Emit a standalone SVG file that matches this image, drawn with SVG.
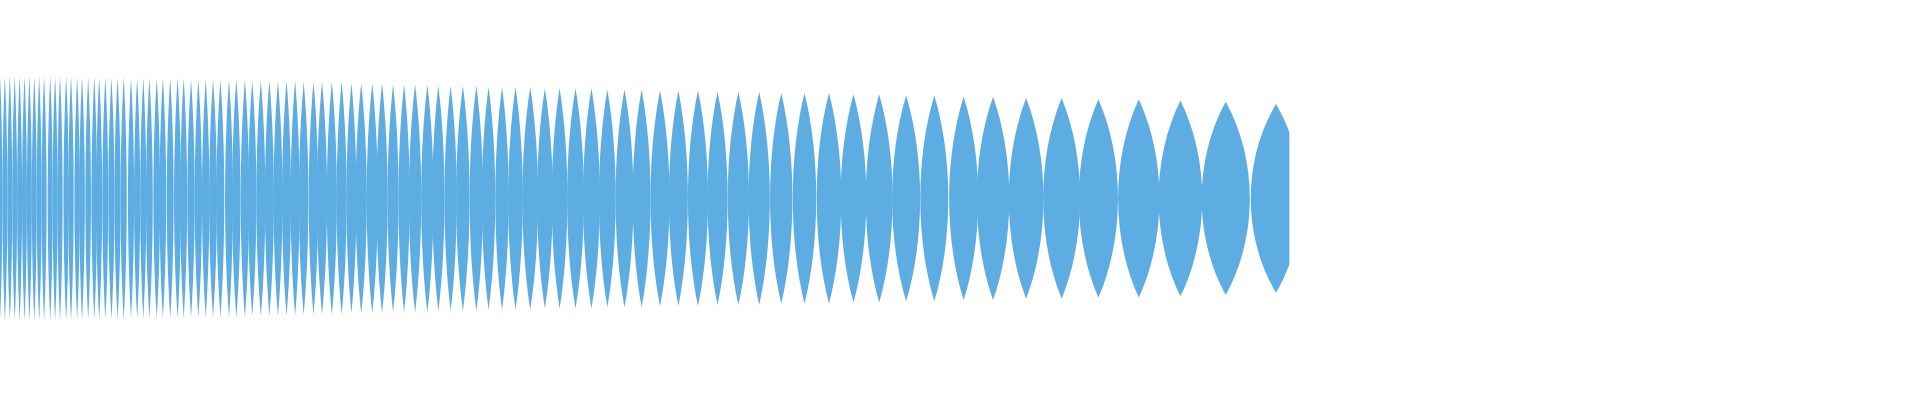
<svg xmlns="http://www.w3.org/2000/svg" width="1920" height="400" viewBox="0 0 1920 400">
<defs>
<path id="l" d="M0,-1 C0.61,-0.4 0.61,0.4 0,1 C-0.61,0.4 -0.61,-0.4 0,-1Z"/>
<clipPath id="c"><rect x="0" y="0" width="1053" height="330"/></clipPath>
<style>use{fill:#5DADE2}</style>
</defs>
<rect width="1920" height="400" fill="#fff"/>
<g transform="scale(1.2245)" clip-path="url(#c)">
<use href="#l" transform="translate(1042 162) scale(45 77)"/>
<use href="#l" transform="translate(1001 162) scale(43 79)"/>
<use href="#l" transform="translate(964 162) scale(39 80)"/>
<use href="#l" transform="translate(930 162) scale(37 81)"/>
<use href="#l" transform="translate(897 162) scale(35 81)"/>
<use href="#l" transform="translate(867 162) scale(33 82)"/>
<use href="#l" transform="translate(838 162) scale(31 82)"/>
<use href="#l" transform="translate(811 162) scale(29 83)"/>
<use href="#l" transform="translate(787 162) scale(26 83)"/>
<use href="#l" transform="translate(763 162) scale(25 84)"/>
<use href="#l" transform="translate(740 162) scale(25 84)"/>
<use href="#l" transform="translate(718 162) scale(24 85)"/>
<use href="#l" transform="translate(697 162) scale(23 85)"/>
<use href="#l" transform="translate(677 162) scale(22 86)"/>
<use href="#l" transform="translate(657 162) scale(21 86)"/>
<use href="#l" transform="translate(638 162) scale(20 86)"/>
<use href="#l" transform="translate(620 162) scale(19 87)"/>
<use href="#l" transform="translate(603 162) scale(19 87)"/>
<use href="#l" transform="translate(586 162) scale(18 87)"/>
<use href="#l" transform="translate(570 162) scale(18 88)"/>
<use href="#l" transform="translate(554 162) scale(17 88)"/>
<use href="#l" transform="translate(539 162) scale(17 88)"/>
<use href="#l" transform="translate(524 162) scale(16 89)"/>
<use href="#l" transform="translate(510 162) scale(16 89)"/>
<use href="#l" transform="translate(496 162) scale(15 89)"/>
<use href="#l" transform="translate(483 162) scale(15 90)"/>
<use href="#l" transform="translate(470 162) scale(15 90)"/>
<use href="#l" transform="translate(457 162) scale(14 90)"/>
<use href="#l" transform="translate(445 162) scale(14 90)"/>
<use href="#l" transform="translate(433 162) scale(14 91)"/>
<use href="#l" transform="translate(421 162) scale(13 91)"/>
<use href="#l" transform="translate(410 162) scale(12 91)"/>
<use href="#l" transform="translate(399 162) scale(12 91)"/>
<use href="#l" transform="translate(389 162) scale(12 92)"/>
<use href="#l" transform="translate(378 162) scale(12 92)"/>
<use href="#l" transform="translate(368 162) scale(11 92)"/>
<use href="#l" transform="translate(358 162) scale(11 92)"/>
<use href="#l" transform="translate(349 162) scale(11 93)"/>
<use href="#l" transform="translate(339 162) scale(11 93)"/>
<use href="#l" transform="translate(330 162) scale(10 93)"/>
<use href="#l" transform="translate(321 162) scale(10 93)"/>
<use href="#l" transform="translate(312 162) scale(10 94)"/>
<use href="#l" transform="translate(304 162) scale(10 94)"/>
<use href="#l" transform="translate(295 162) scale(10 94)"/>
<use href="#l" transform="translate(287 162) scale(9 94)"/>
<use href="#l" transform="translate(279 162) scale(9 95)"/>
<use href="#l" transform="translate(271 162) scale(9 95)"/>
<use href="#l" transform="translate(263 162) scale(9 95)"/>
<use href="#l" transform="translate(256 162) scale(8.5 95)"/>
<use href="#l" transform="translate(248 162) scale(8.5 95)"/>
<use href="#l" transform="translate(241 162) scale(8 96)"/>
<use href="#l" transform="translate(234 162) scale(8 96)"/>
<use href="#l" transform="translate(227 162) scale(8 96)"/>
<use href="#l" transform="translate(220 162) scale(8 96)"/>
<use href="#l" transform="translate(213 162) scale(8 96)"/>
<use href="#l" transform="translate(206 162) scale(7.5 96)"/>
<use href="#l" transform="translate(200 162) scale(7.5 97)"/>
<use href="#l" transform="translate(193 162) scale(7.5 97)"/>
<use href="#l" transform="translate(187 162) scale(7 97)"/>
<use href="#l" transform="translate(180 162) scale(7 97)"/>
<use href="#l" transform="translate(174 162) scale(7 97)"/>
<use href="#l" transform="translate(168 162) scale(6.6 97)"/>
<use href="#l" transform="translate(162 162) scale(6.6 97)"/>
<use href="#l" transform="translate(156 162) scale(6.6 97)"/>
<use href="#l" transform="translate(150 162) scale(6.2 98)"/>
<use href="#l" transform="translate(145 162) scale(6.2 98)"/>
<use href="#l" transform="translate(139 162) scale(6.2 98)"/>
<use href="#l" transform="translate(133 162) scale(6 98)"/>
<use href="#l" transform="translate(128 162) scale(6 98)"/>
<use href="#l" transform="translate(122 162) scale(6 98)"/>
<use href="#l" transform="translate(117 162) scale(5.5 98)"/>
<use href="#l" transform="translate(112 162) scale(5.5 98)"/>
<use href="#l" transform="translate(107 162) scale(5.5 98)"/>
<use href="#l" transform="translate(101 162) scale(5.5 99)"/>
<use href="#l" transform="translate(96 162) scale(5.5 99)"/>
<use href="#l" transform="translate(91 162) scale(5.5 99)"/>
<use href="#l" transform="translate(86 162) scale(5.3 99)"/>
<use href="#l" transform="translate(81 162) scale(5.3 99)"/>
<use href="#l" transform="translate(77 162) scale(5 99)"/>
<use href="#l" transform="translate(72 162) scale(5 99)"/>
<use href="#l" transform="translate(67 162) scale(5 99)"/>
<use href="#l" transform="translate(63 162) scale(4.8 99)"/>
<use href="#l" transform="translate(58 162) scale(4.8 100)"/>
<use href="#l" transform="translate(54 162) scale(4.7 100)"/>
<use href="#l" transform="translate(49 162) scale(4.7 100)"/>
<use href="#l" transform="translate(45 162) scale(4.5 100)"/>
<use href="#l" transform="translate(41 162) scale(4.5 100)"/>
<use href="#l" transform="translate(36 162) scale(4.5 100)"/>
<use href="#l" transform="translate(32 162) scale(4.4 100)"/>
<use href="#l" transform="translate(28 162) scale(4.4 100)"/>
<use href="#l" transform="translate(24 162) scale(4.4 100)"/>
<use href="#l" transform="translate(20 162) scale(4.4 100)"/>
<use href="#l" transform="translate(16 162) scale(4.4 100)"/>
<use href="#l" transform="translate(12 162) scale(4.4 100)"/>
<use href="#l" transform="translate(8 162) scale(4.4 100)"/>
<use href="#l" transform="translate(4 162) scale(4.4 100)"/>
<use href="#l" transform="translate(0 162) scale(4.4 100)"/>
</g>
</svg>
